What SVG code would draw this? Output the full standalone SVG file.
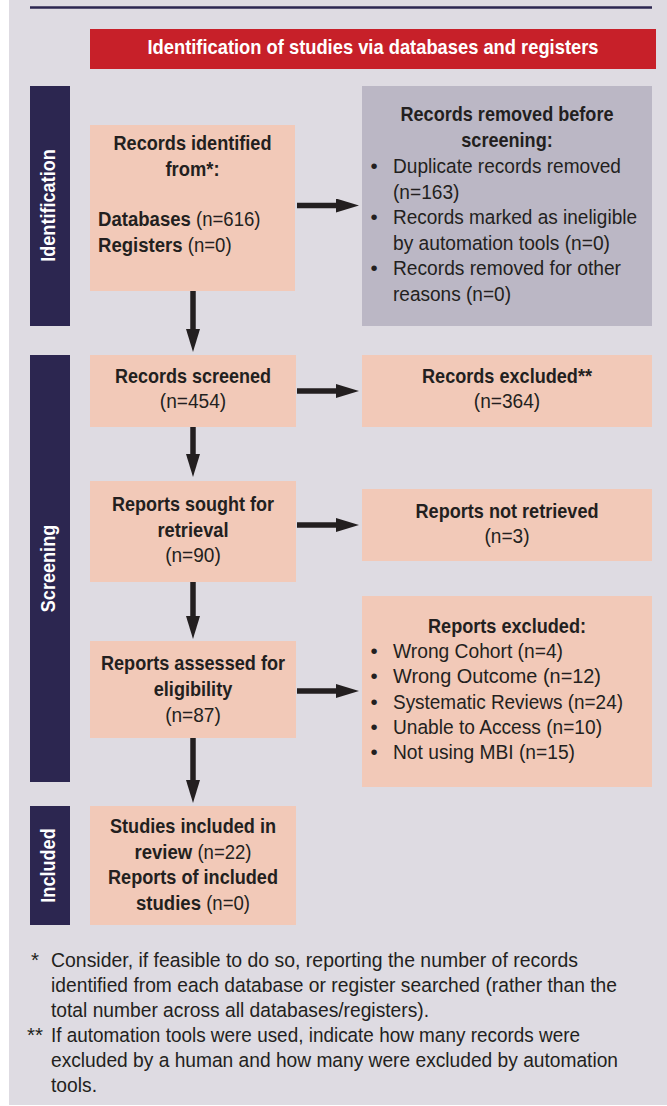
<svg xmlns="http://www.w3.org/2000/svg" width="667" height="1106" viewBox="0 0 667 1106">
  <defs>
    <style>
      .t { font-family: "Liberation Sans", Arial, sans-serif; font-size: 20.5px; fill: #231f20; }
      .b { font-weight: bold; }
      .c { text-anchor: middle; }
      .w { fill: #ffffff; font-weight: bold; font-family: "Liberation Sans", Arial, sans-serif; font-size: 20.5px; text-anchor: middle; }
      .peach { fill: #f2c9b8; }
      .gray { fill: #bbb7c5; }
      .navy { fill: #2c2650; }
      .arrow { stroke: #231f20; stroke-width: 5.5; fill: none; marker-end: url(#head); }
    </style>
    <marker id="head" markerUnits="userSpaceOnUse" markerWidth="23" markerHeight="14" refX="3" refY="7" orient="auto">
      <path d="M0,0 L23,7 L0,14 z" fill="#231f20"/>
    </marker>
  </defs>

  <rect x="0" y="0" width="667" height="1106" fill="#ffffff"/>
  <rect x="9" y="0" width="658" height="1105" fill="#dedbe2"/>
  <line x1="30" y1="7.5" x2="652" y2="7.5" stroke="#2c2650" stroke-width="2.6"/>

  <g id="header">
    <rect x="90" y="29" width="566" height="40" fill="#c72029"/>
    <text class="w" x="373" y="54" textLength="451" lengthAdjust="spacingAndGlyphs">Identification of studies via databases and registers</text>
  </g>

  <g id="lane-identification">
    <rect class="navy" x="30" y="86" width="40" height="240"/>
    <text class="w" transform="translate(55,205.5) rotate(-90)" x="0" y="0" textLength="112.5" lengthAdjust="spacingAndGlyphs">Identification</text>
  </g>
  <g id="lane-screening">
    <rect class="navy" x="30" y="355" width="40" height="427"/>
    <text class="w" transform="translate(55,568.5) rotate(-90)" x="0" y="0" textLength="87.5" lengthAdjust="spacingAndGlyphs">Screening</text>
  </g>
  <g id="lane-included">
    <rect class="navy" x="30" y="806" width="40" height="119"/>
    <text class="w" transform="translate(55,865.5) rotate(-90)" x="0" y="0" textLength="74.4" lengthAdjust="spacingAndGlyphs">Included</text>
  </g>

  <g id="records-identified">
    <rect class="peach" x="90" y="125" width="205" height="166"/>
    <text class="t b c" x="192.5" y="150" textLength="158" lengthAdjust="spacingAndGlyphs">Records identified</text>
    <text class="t b c" x="192.5" y="176" textLength="54" lengthAdjust="spacingAndGlyphs">from*:</text>
    <text class="t" transform="translate(98,226) scale(0.906,1)"><tspan class="b">Databases</tspan> (n=616)</text>
    <text class="t" transform="translate(98,252) scale(0.906,1)"><tspan class="b">Registers</tspan> (n=0)</text>
  </g>

  <g id="records-removed">
    <rect class="gray" x="362" y="86" width="290" height="240"/>
    <text class="t b c" x="507" y="121" textLength="213" lengthAdjust="spacingAndGlyphs">Records removed before</text>
    <text class="t b c" x="507" y="147" textLength="91.5" lengthAdjust="spacingAndGlyphs">screening:</text>
    <text class="t c" x="374" y="173">•</text>
    <text class="t" x="393" y="173" textLength="228" lengthAdjust="spacingAndGlyphs">Duplicate records removed</text>
    <text class="t" x="393" y="199" textLength="66.4" lengthAdjust="spacingAndGlyphs">(n=163)</text>
    <text class="t c" x="374" y="224">•</text>
    <text class="t" x="393" y="224" textLength="244" lengthAdjust="spacingAndGlyphs">Records marked as ineligible</text>
    <text class="t" x="393" y="250" textLength="217" lengthAdjust="spacingAndGlyphs">by automation tools (n=0)</text>
    <text class="t c" x="374" y="275">•</text>
    <text class="t" x="393" y="275" textLength="228" lengthAdjust="spacingAndGlyphs">Records removed for other</text>
    <text class="t" x="393" y="301" textLength="118" lengthAdjust="spacingAndGlyphs">reasons (n=0)</text>
  </g>

  <g id="records-screened">
    <rect class="peach" x="90" y="355" width="206" height="72"/>
    <text class="t b c" x="193" y="383" textLength="156" lengthAdjust="spacingAndGlyphs">Records screened</text>
    <text class="t c" x="193" y="408" textLength="66.4" lengthAdjust="spacingAndGlyphs">(n=454)</text>
  </g>

  <g id="records-excluded">
    <rect class="peach" x="362" y="355" width="290" height="72"/>
    <text class="t b c" x="507" y="383" textLength="170" lengthAdjust="spacingAndGlyphs">Records excluded**</text>
    <text class="t c" x="507" y="408" textLength="66.4" lengthAdjust="spacingAndGlyphs">(n=364)</text>
  </g>

  <g id="reports-sought">
    <rect class="peach" x="90" y="481" width="206" height="101"/>
    <text class="t b c" x="193" y="511" textLength="162" lengthAdjust="spacingAndGlyphs">Reports sought for</text>
    <text class="t b c" x="193" y="537" textLength="71" lengthAdjust="spacingAndGlyphs">retrieval</text>
    <text class="t c" x="193" y="562" textLength="55.7" lengthAdjust="spacingAndGlyphs">(n=90)</text>
  </g>

  <g id="reports-not-retrieved">
    <rect class="peach" x="362" y="489" width="290" height="72"/>
    <text class="t b c" x="507" y="518" textLength="183" lengthAdjust="spacingAndGlyphs">Reports not retrieved</text>
    <text class="t c" x="507" y="543" textLength="45.1" lengthAdjust="spacingAndGlyphs">(n=3)</text>
  </g>

  <g id="reports-assessed">
    <rect class="peach" x="90" y="641" width="206" height="97"/>
    <text class="t b c" x="193" y="670" textLength="184" lengthAdjust="spacingAndGlyphs">Reports assessed for</text>
    <text class="t b c" x="193" y="696" textLength="78.5" lengthAdjust="spacingAndGlyphs">eligibility</text>
    <text class="t c" x="193" y="722" textLength="55.7" lengthAdjust="spacingAndGlyphs">(n=87)</text>
  </g>

  <g id="reports-excluded">
    <rect class="peach" x="362" y="596" width="290" height="191"/>
    <text class="t b c" x="507" y="633" textLength="158" lengthAdjust="spacingAndGlyphs">Reports excluded:</text>
    <text class="t c" x="374" y="658">•</text>
    <text class="t" x="393" y="658" textLength="170" lengthAdjust="spacingAndGlyphs">Wrong Cohort (n=4)</text>
    <text class="t c" x="374" y="683">•</text>
    <text class="t" x="393" y="683" textLength="208" lengthAdjust="spacingAndGlyphs">Wrong Outcome (n=12)</text>
    <text class="t c" x="374" y="709">•</text>
    <text class="t" x="393" y="709" textLength="230" lengthAdjust="spacingAndGlyphs">Systematic Reviews (n=24)</text>
    <text class="t c" x="374" y="734">•</text>
    <text class="t" x="393" y="734" textLength="209" lengthAdjust="spacingAndGlyphs">Unable to Access (n=10)</text>
    <text class="t c" x="374" y="759">•</text>
    <text class="t" x="393" y="759" textLength="182" lengthAdjust="spacingAndGlyphs">Not using MBI (n=15)</text>
  </g>

  <g id="studies-included">
    <rect class="peach" x="90" y="806" width="206" height="119"/>
    <text class="t b c" x="193" y="833" textLength="166" lengthAdjust="spacingAndGlyphs">Studies included in</text>
    <text class="t c" transform="translate(193,859) scale(0.906,1)"><tspan class="b">review</tspan> (n=22)</text>
    <text class="t b c" x="193" y="884" textLength="170" lengthAdjust="spacingAndGlyphs">Reports of included</text>
    <text class="t c" transform="translate(193,910) scale(0.906,1)"><tspan class="b">studies</tspan> (n=0)</text>
  </g>

  <g id="connectors">
    <line class="arrow" x1="193" y1="291" x2="193" y2="332"/>
    <line class="arrow" x1="297" y1="205.5" x2="339" y2="205.5"/>
    <line class="arrow" x1="297" y1="391" x2="339" y2="391"/>
    <line class="arrow" x1="193" y1="427" x2="193" y2="457"/>
    <line class="arrow" x1="297" y1="525" x2="339" y2="525"/>
    <line class="arrow" x1="193" y1="582" x2="193" y2="619"/>
    <line class="arrow" x1="297" y1="691" x2="339" y2="691"/>
    <line class="arrow" x1="193" y1="738" x2="193" y2="783"/>
  </g>

  <g id="footnotes">
    <text class="t" x="31" y="967">*</text>
    <text class="t" x="51" y="967" textLength="527" lengthAdjust="spacingAndGlyphs">Consider, if feasible to do so, reporting the number of records</text>
    <text class="t" x="51" y="992" textLength="566" lengthAdjust="spacingAndGlyphs">identified from each database or register searched (rather than the</text>
    <text class="t" x="51" y="1017" textLength="378" lengthAdjust="spacingAndGlyphs">total number across all databases/registers).</text>
    <text class="t" x="27" y="1042">**</text>
    <text class="t" x="51" y="1042" textLength="529" lengthAdjust="spacingAndGlyphs">If automation tools were used, indicate how many records were</text>
    <text class="t" x="51" y="1067" textLength="567" lengthAdjust="spacingAndGlyphs">excluded by a human and how many were excluded by automation</text>
    <text class="t" x="51" y="1092" textLength="46" lengthAdjust="spacingAndGlyphs">tools.</text>
  </g>
</svg>
